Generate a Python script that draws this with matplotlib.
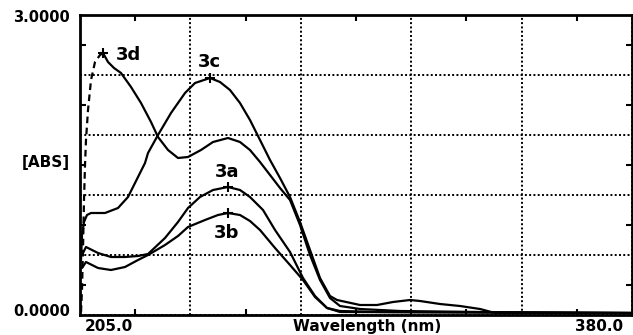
import matplotlib.pyplot as plt
import numpy as np

# wavelength (nm) / absorbance readings for each spectrum
wl_3a = [205.63, 206.90, 210.71, 214.83, 219.27, 223.39, 226.56, 231.95, 236.07, 239.24,
         243.04, 247.17, 251.92, 255.72, 258.89, 263.02, 266.83, 271.58, 275.70, 279.50,
         283.31, 287.43, 300.11, 380.0]
abs_3a = [0.60, 0.68, 0.62, 0.58, 0.58, 0.59, 0.61, 0.77, 0.93, 1.07,
          1.18, 1.25, 1.28, 1.25, 1.18, 1.05, 0.85, 0.63, 0.37, 0.19,
          0.07, 0.04, 0.03, 0.02]

wl_3b = [205.63, 206.90, 210.71, 214.83, 219.27, 223.39, 226.56, 231.95, 236.07, 239.24,
         244.63, 248.75, 251.92, 255.72, 258.89, 262.07, 266.83, 271.58, 275.70, 279.50,
         283.31, 287.43, 380.0]
abs_3b = [0.47, 0.53, 0.47, 0.45, 0.48, 0.55, 0.60, 0.70, 0.79, 0.88,
          0.95, 1.00, 1.02, 1.00, 0.94, 0.85, 0.67, 0.50, 0.35, 0.18,
          0.07, 0.03, 0.02]

wl_3c = [205.32, 205.63, 206.27, 207.22, 208.49, 212.93, 217.05, 220.22, 222.44, 225.61,
         226.56, 229.73, 233.85, 238.29, 241.46, 246.21, 249.38, 252.55, 255.72, 258.89,
         262.07, 265.24, 268.41, 271.58, 274.75, 277.92, 281.09, 284.26, 286.48, 293.77,
         299.16, 304.23, 309.62, 312.79, 319.13, 325.47, 331.81, 336.57, 380.0]
abs_3c = [0.55, 0.80, 0.93, 1.00, 1.02, 1.02, 1.07, 1.18, 1.32, 1.52,
          1.62, 1.80, 2.02, 2.22, 2.32, 2.37, 2.33, 2.25, 2.12, 1.95,
          1.75, 1.55, 1.37, 1.18, 0.93, 0.65, 0.37, 0.19, 0.15, 0.10,
          0.10, 0.13, 0.15, 0.14, 0.11, 0.09, 0.06, 0.02, 0.02]

# 3d: dashed rising edge, then solid
wl_3d_rise = [205.32, 205.63, 205.95, 206.27, 206.59, 206.90, 207.54, 208.49, 209.76,
              211.34, 212.29]
abs_3d_rise = [0.03, 0.25, 0.65, 1.15, 1.50, 1.75, 2.05, 2.35, 2.53, 2.60, 2.62]
wl_3d = [212.29, 213.88, 215.78, 218.00, 221.17, 224.34, 227.51, 229.73, 232.90, 236.07,
         239.24, 243.36, 247.17, 251.92, 255.72, 258.89, 262.07, 265.24, 268.41, 271.58,
         274.75, 277.92, 281.09, 284.26, 287.43, 293.77, 306.45, 331.81, 380.0]
abs_3d = [2.62, 2.53, 2.47, 2.42, 2.28, 2.12, 1.93, 1.78, 1.65, 1.57,
          1.58, 1.65, 1.73, 1.77, 1.73, 1.65, 1.53, 1.40, 1.27, 1.15,
          0.90, 0.60, 0.35, 0.17, 0.09, 0.06, 0.04, 0.03, 0.02]

labels = ["3a", "3b", "3c", "3d"]
label_pos = [(251.6, 1.43), (251.6, 0.82), (245.9, 2.53), (220.5, 2.60)]

x_min, x_max = 205.0, 380.0
y_min, y_max = 0.0, 3.0

fig = plt.figure(figsize=(6.33, 3.35), dpi=100)
ax = fig.add_axes([80 / 633, 20 / 335, 552 / 633, 300 / 335])

lw = 1.6
line_kw = dict(color='black', lw=lw, solid_joinstyle='round', solid_capstyle='round')
ax.plot(wl_3a, abs_3a, **line_kw)
ax.plot(wl_3b, abs_3b, **line_kw)
ax.plot(wl_3c, abs_3c, **line_kw)
ax.plot(wl_3d_rise, abs_3d_rise, color='black', lw=lw, linestyle=(0, (3, 2)))
ax.plot(wl_3d, abs_3d, **line_kw)

# peak markers
for wl, ab in [(wl_3a, abs_3a), (wl_3b, abs_3b), (wl_3c, abs_3c), (wl_3d, abs_3d)]:
    i = int(np.argmax(ab))
    ax.plot(wl[i], ab[i], marker='+', color='black', ms=7, mew=1.5)

for lab, (lx, ly) in zip(labels, label_pos):
    ax.text(lx, ly, lab, fontsize=13, fontweight='bold', ha='center', va='center')

ax.set_xlim(x_min, x_max)
ax.set_ylim(y_min, y_max)

ax.set_xticks(np.linspace(x_min, x_max, 6))
ax.set_yticks(np.linspace(y_min, y_max, 6))
ax.set_xticks(np.linspace(x_min, x_max, 11), minor=True)
ax.set_yticks(np.linspace(y_min, y_max, 11), minor=True)
ax.tick_params(which='major', length=0, labelbottom=False, labelleft=False)
ax.tick_params(which='minor', direction='in', length=4, width=1.5,
               top=True, right=True, bottom=True, left=True)
ax.grid(True, which='major', color='black', linestyle=(0, (1, 1.2)), lw=1.4)

for s in ax.spines.values():
    s.set_linewidth(2)

bold = dict(fontsize=11, fontweight='bold')
ax.text(0.009, -0.012, "205.0", transform=ax.transAxes, ha='left', va='top', **bold)
ax.text(0.984, -0.012, "380.0", transform=ax.transAxes, ha='right', va='top', **bold)
ax.text(0.52, -0.012, "Wavelength (nm)", transform=ax.transAxes, ha='center', va='top', **bold)
ax.text(-0.018, 0.993, "3.0000", transform=ax.transAxes, ha='right', va='center',
        fontsize=10.5, fontweight='bold')
ax.text(-0.018, 0.01, "0.0000", transform=ax.transAxes, ha='right', va='center',
        fontsize=10.5, fontweight='bold')
ax.text(-0.018, 0.507, "[ABS]", transform=ax.transAxes, ha='right', va='center', **bold)

fig.savefig("out.png", dpi=100)
